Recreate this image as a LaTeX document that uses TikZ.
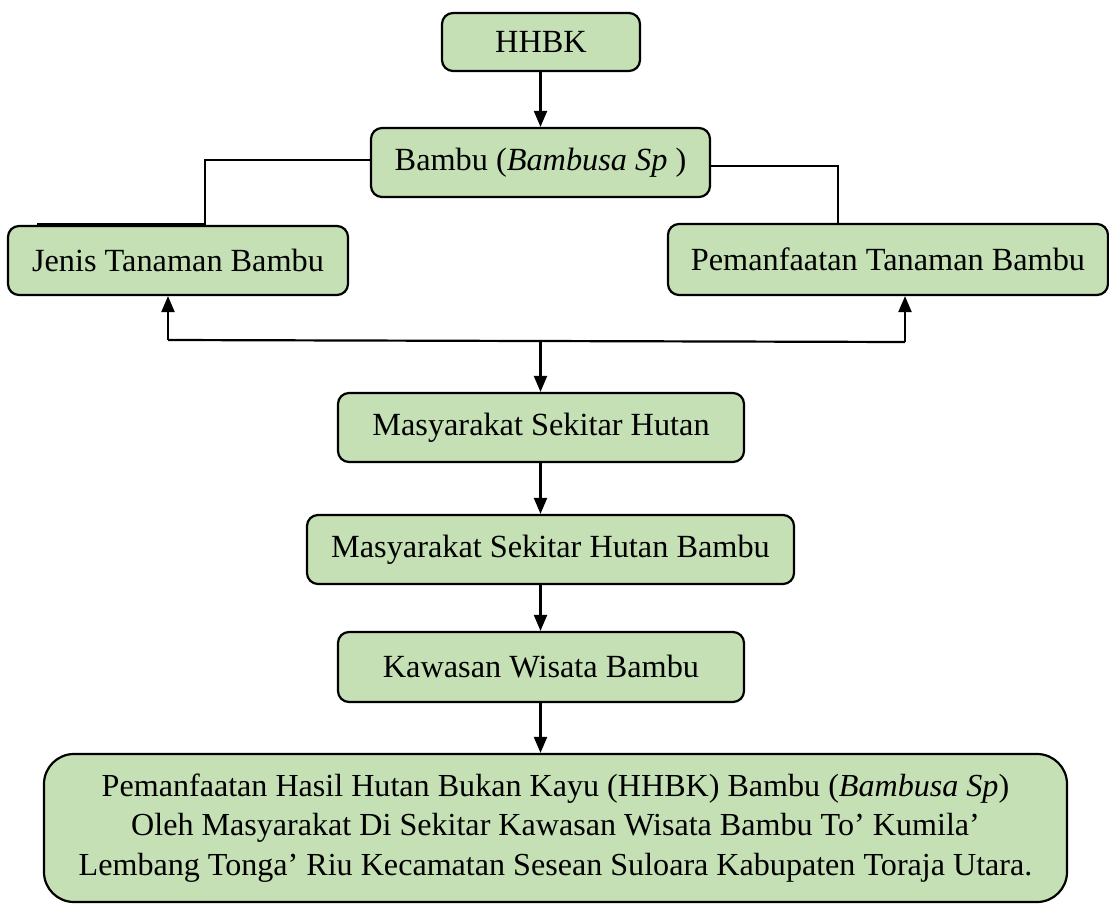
\documentclass[tikz,border=0pt]{standalone}
\usepackage{fontspec}
\setmainfont{Liberation Serif}
\usetikzlibrary{arrows.meta}
\definecolor{boxgreen}{HTML}{C5E0B4}
\tikzset{
  box/.style={draw=black, line width=2.2pt, fill=boxgreen, rounded corners=11pt,
    inner sep=0pt, align=center, font=\fontsize{32.3}{38}\selectfont},
  bigbox/.style={box, rounded corners=30pt, font=\fontsize{32.1}{39.5}\selectfont},
  conn/.style={draw=black, line width=2.2pt},
  arr/.style={conn, -{Triangle[length=16pt,width=13pt]}}
}
\begin{document}
\begin{tikzpicture}[x=1pt,y=-1pt]
\useasboundingbox (0,0) rectangle (1109,905);
\node[box, minimum width=198pt, minimum height=58pt] (hhbk) at (541,42) {HHBK};
\node[box, minimum width=339pt, minimum height=69pt] (bambu) at (540.5,162.5) {Bambu (\textit{Bambusa Sp} )};
\node[box, minimum width=340pt, minimum height=69pt] (jenis) at (178,260.5) {Jenis Tanaman Bambu};
\node[box, minimum width=440pt, minimum height=71pt] (pem) at (888,259.5) {Pemanfaatan Tanaman Bambu};
\node[box, minimum width=406pt, minimum height=69pt] (msh) at (541,427.5) {Masyarakat Sekitar Hutan};
\node[box, minimum width=487pt, minimum height=69pt] (mshb) at (550.5,549.5) {Masyarakat Sekitar Hutan Bambu};
\node[box, minimum width=406pt, minimum height=70pt] (kwb) at (541,667) {Kawasan Wisata Bambu};
\node[bigbox, minimum width=1023pt, minimum height=148pt] (big) at (555.5,828)
  {Pemanfaatan Hasil Hutan Bukan Kayu (HHBK) Bambu (\textit{Bambusa Sp})\\
   Oleh Masyarakat Di Sekitar Kawasan Wisata Bambu To’ Kumila’\\
   Lembang Tonga’ Riu Kecamatan Sesean Suloara Kabupaten Toraja Utara.};

\coordinate (jm) at (205,224);
\coordinate (jl) at (37,224);
\coordinate (pm) at (838,224);
\coordinate (pr) at (970,224);
\coordinate (bl) at (168,340);
\coordinate (bm) at (540.5,341);
\coordinate (br) at (905,342);

\draw[arr] (hhbk.south -| 540.5,0) -- (bambu.north -| 540.5,0);
\draw[conn] ([yshift=2.5pt]bambu.west) -| (jm) -- (jl);
\draw[conn] ([yshift=-3.5pt]bambu.east) -| (pm) -- (pr);
\draw[conn] (bl) -- (br);
\draw[arr] (bl) -- (bl |- jenis.south);
\draw[arr] (br) -- (br |- pem.south);
\draw[arr] (bm) -- (bm |- msh.north);
\draw[arr] (msh.south -| 540.5,0) -- (mshb.north -| 540.5,0);
\draw[arr] (mshb.south -| 540.5,0) -- (kwb.north -| 540.5,0);
\draw[arr] (kwb.south -| 540.5,0) -- (big.north -| 540.5,0);
\end{tikzpicture}
\end{document}
